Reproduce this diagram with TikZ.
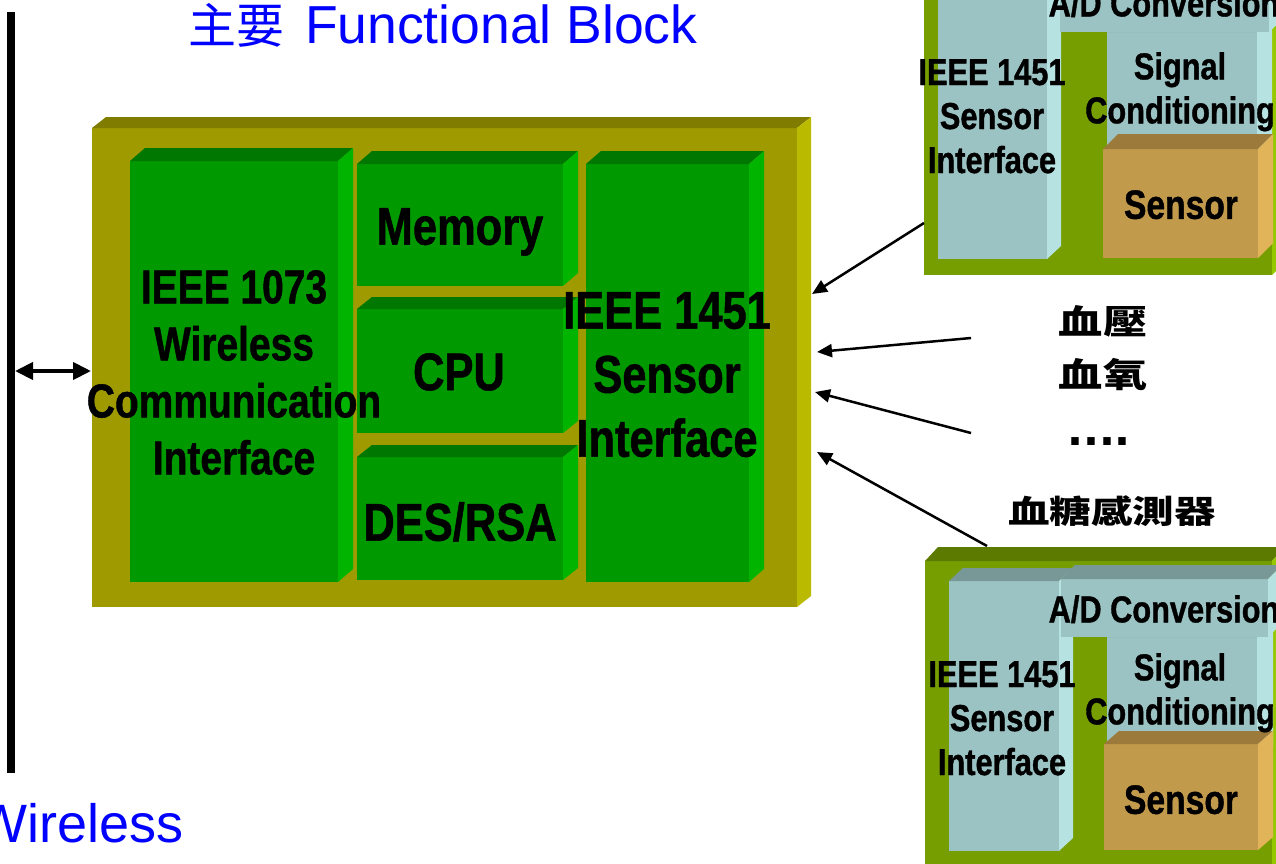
\documentclass[tikz,border=0pt]{standalone}
\usepackage{fontspec}
\setmainfont{Liberation Sans}
\newfontfamily\nb{Liberation Sans}[FakeStretch=0.82,FakeBold=1]
\newfontfamily\cjkw{Noto Sans CJK TC}[FakeStretch=1.3]
\newfontfamily\cjkt{Noto Sans CJK TC}
\newfontfamily\dv{DejaVu Sans}
\usetikzlibrary{arrows.meta}

% face colours: F = front, T = top, S = right side
\definecolor{olF}{RGB}{158,154,0}
\definecolor{olT}{RGB}{128,124,0}
\definecolor{olS}{RGB}{186,186,0}
\definecolor{grF}{RGB}{0,153,0}
\definecolor{grT}{RGB}{0,119,0}
\definecolor{grS}{RGB}{0,180,0}
\definecolor{lgF}{RGB}{119,158,0}
\definecolor{lgT}{RGB}{92,122,0}
\definecolor{lgS}{RGB}{150,200,0}
\definecolor{bxF}{RGB}{156,195,195}
\definecolor{bxT}{RGB}{120,152,152}
\definecolor{bxS}{RGB}{182,226,226}
\definecolor{tnF}{RGB}{194,154,76}
\definecolor{tnT}{RGB}{156,122,60}
\definecolor{tnS}{RGB}{226,180,90}

% bevelled block: x1,y1,x2,y2 (front face), depth x, depth y, colour prefix
\newcommand{\bevbox}[7]{%
  \fill[#7F] (#1,#2) rectangle (#3,#4);
  \fill[#7T] (#1,#2) -- (#1+#5,#2-#6) -- (#3+#5,#2-#6) -- (#3,#2) -- cycle;
  \fill[#7S] (#3,#2) -- (#3+#5,#2-#6) -- (#3+#5,#4-#6) -- (#3,#4) -- cycle;}

\tikzset{
  lbl/.style={inner sep=0pt, align=center, text=black},
  big/.style={lbl, font=\nb\bfseries\fontsize{53}{64}\selectfont},
  comm/.style={lbl, font=\nb\bfseries\fontsize{47.5}{57}\selectfont},
  modtxt/.style={lbl, font=\nb\bfseries\fontsize{37.5}{44}\selectfont},
  sens/.style={lbl, font=\nb\bfseries\fontsize{41}{48}\selectfont},
  zh/.style={inner sep=0pt, text=black, font=\cjkw\bfseries\fontsize{34}{40}\selectfont},
  arr/.style={line width=2.5pt, -{Triangle[length=15pt,width=13pt]}},
  dblarr/.style={line width=4pt, {Triangle[length=18pt,width=17pt]}-{Triangle[length=18pt,width=17pt]}},
  bluetxt/.style={inner sep=0pt, text=blue}
}

\begin{document}
\begin{tikzpicture}[x=1pt,y=-1pt]
\useasboundingbox (0,0) rectangle (1276,863);
\clip (0,0) rectangle (1276,863);

% network bus
\fill[black] (7,12) rectangle (15,773);
\coordinate (busport) at (15,371);
\coordinate (mainport) at (91,371);

% main functional block
\bevbox{92}{128}{797}{607}{14}{11}{ol}
\bevbox{130}{161}{338}{582}{15}{13}{gr}
\bevbox{357}{164}{563}{286}{15}{13}{gr}
\bevbox{357}{309}{563}{433}{15}{12}{gr}
\bevbox{357}{457}{563}{580}{15}{12}{gr}
\bevbox{586}{164}{749}{582}{15}{13}{gr}

\node[comm, anchor=north] (commtxt) at (234,270) {IEEE 1073\\Wireless\\Communication\\Interface};
\node[big, anchor=north] (memtxt) at (460,208) {Memory};
\node[big, anchor=north] (cputxt) at (459,353) {CPU};
\node[big, anchor=north] (destxt) at (460,502) {DES/RSA};
\node[big, anchor=north] (sitxt) at (667,292) {IEEE 1451\\Sensor\\Interface};

% upper sensor module
\bevbox{924}{-40}{1272}{275}{14}{14}{lg}
\bevbox{938}{-40}{1047}{259}{14}{13}{bx}
\bevbox{1107}{32}{1257}{160}{15}{14}{bx}
\bevbox{1060}{-40}{1269}{32}{14}{13}{bx}
\bevbox{1103}{149}{1258}{258}{15}{15}{tn}
\node[modtxt, anchor=north] (adtxtA) at (1164,-11) {A/D Conversion};
\node[modtxt, anchor=north] (sitxtA) at (992,59) {IEEE 1451\\Sensor\\Interface};
\node[modtxt, anchor=north] (sctxtA) at (1180,52) {Signal\\Conditioning};
\node[sens, anchor=north] (sentxtA) at (1181,190) {Sensor};

% lower sensor module
\bevbox{925}{561}{1272}{900}{13}{14}{lg}
\bevbox{949}{581}{1059}{851}{14}{13}{bx}
\bevbox{1107}{637}{1257}{760}{16}{14}{bx}
\bevbox{1061}{579}{1268}{637}{14}{14}{bx}
\bevbox{1104}{744}{1258}{850}{15}{13}{tn}
\node[modtxt, anchor=north] (adtxtB) at (1164,595) {A/D Conversion};
\node[modtxt, anchor=north] (sitxtB) at (1002,661) {IEEE 1451\\Sensor\\Interface};
\node[modtxt, anchor=north] (sctxtB) at (1180,653) {Signal\\Conditioning};
\node[sens, anchor=north] (sentxtB) at (1181,785) {Sensor};

% measured quantities
\node[zh] (bp) at (1103,321) {血壓};
\node[zh] (ox) at (1103,375) {血氧};
\node[inner sep=0pt, anchor=base, font=\dv\bfseries\fontsize{42}{48}\selectfont] (more) at (1099,445) {....};
\node[zh, font=\cjkw\bfseries\fontsize{32}{38}\selectfont] (glu) at (1112,511) {血糖感測器};

% titles
\node[bluetxt, anchor=base west, font=\fontsize{53.5}{64}\selectfont] (title) at (188,43)
  {{\cjkt\fontsize{48}{56}\selectfont 主要}\hspace{6pt} Functional Block};
\node[bluetxt, anchor=base east, font=\fontsize{54}{64}\selectfont] (wl) at (184,842) {Wireless};

% connectors
\coordinate (a1s) at (924,223);  \coordinate (a1e) at (812,294);
\coordinate (a2s) at (971,338);  \coordinate (a2e) at (817,352);
\coordinate (a3s) at (971,433);  \coordinate (a3e) at (815,392);
\coordinate (a4s) at (987,546);  \coordinate (a4e) at (817,452);
\draw[arr] (a1s) -- (a1e);
\draw[arr] (a2s) -- (a2e);
\draw[arr] (a3s) -- (a3e);
\draw[arr] (a4s) -- (a4e);
\draw[dblarr] (busport) -- (mainport);
\end{tikzpicture}
\end{document}
